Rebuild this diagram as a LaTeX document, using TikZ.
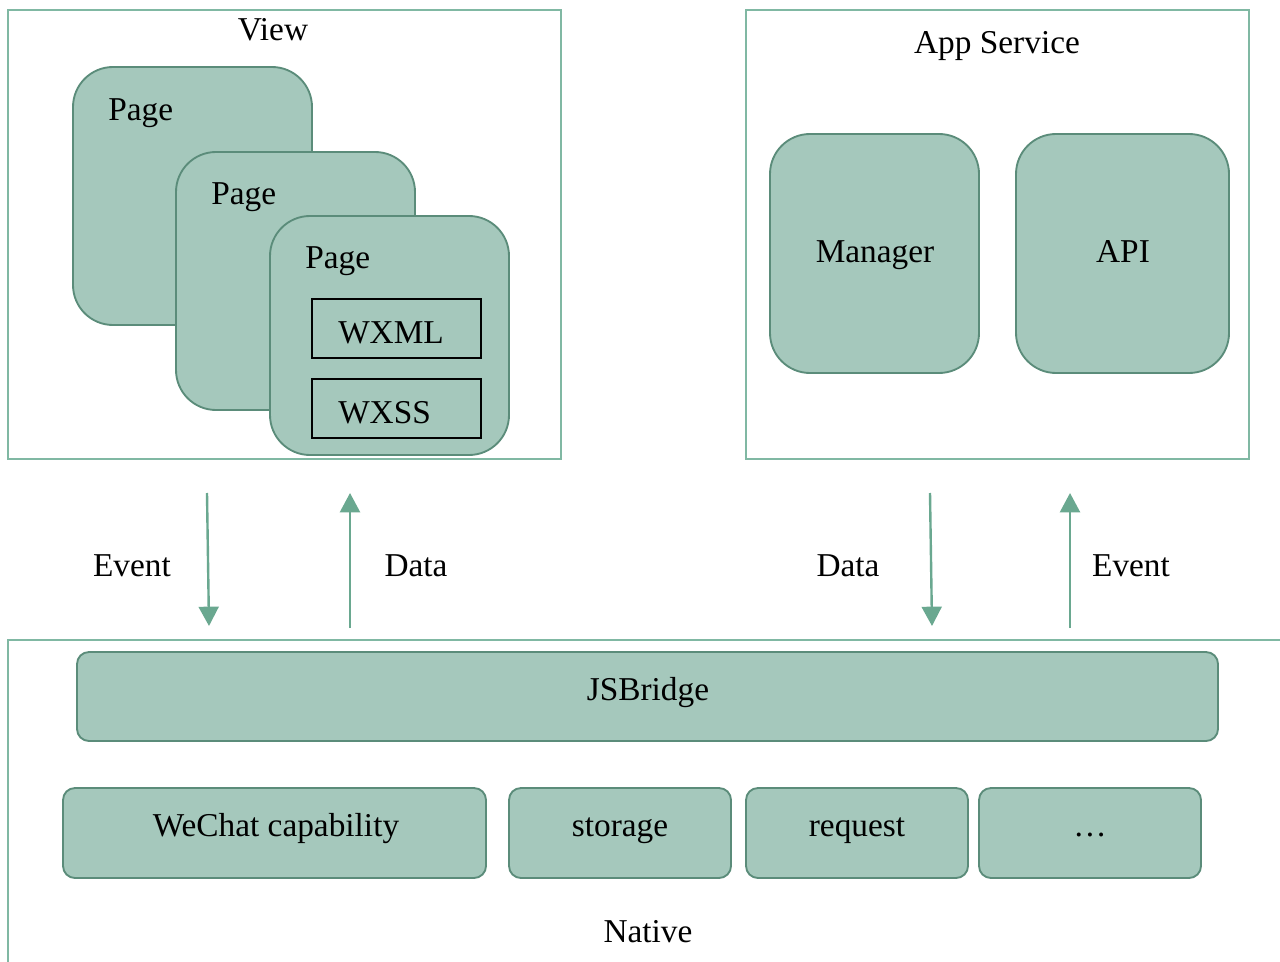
\documentclass[tikz,border=0pt]{standalone}
\usepackage{fontspec}
\setmainfont{Liberation Serif}
\usetikzlibrary{fit,arrows.meta}
\definecolor{fillg}{HTML}{A5C8BC}
\definecolor{edgeg}{HTML}{5B8C7A}
\definecolor{outerg}{HTML}{80B8A3}
\definecolor{arrg}{HTML}{6AA890}
\begin{document}
\begin{tikzpicture}[x=0.75pt,y=-0.75pt,
  outerbox/.style={draw=outerg,line width=1.4pt,inner sep=0pt},
  bigbox/.style={draw=edgeg,fill=fillg,line width=1.4pt,rounded corners=30pt,inner sep=0pt},
  smallbox/.style={draw=edgeg,fill=fillg,line width=1.4pt,rounded corners=9pt,inner sep=0pt},
  blackbox/.style={draw=black,line width=1.6pt,inner sep=0pt},
  lbl/.style={font=\fontsize{25}{30}\selectfont,inner sep=0pt},
  flow/.style={draw=arrg,line width=1.8pt,-{Triangle[length=14.5pt,width=15pt]}}]
\useasboundingbox (0,0) rectangle (1280,962);
% View
\node[outerbox,fit={(8,10)(561,459)}] (view) {};
\node[lbl,anchor=base] (viewl) at (273,41) {View};
\node[bigbox,fit={(73,67)(312,325)}] (p1) {};
\node[lbl,anchor=base west] (p1l) at (108,121) {Page};
\node[bigbox,fit={(176,152)(415,410)}] (p2) {};
\node[lbl,anchor=base west] (p2l) at (211,205) {Page};
\node[bigbox,fit={(270,216)(509,455)}] (p3) {};
\node[lbl,anchor=base west] (p3l) at (305,269) {Page};
\node[blackbox,fit={(312,299)(481,358)}] (wxml) {};
\node[lbl,anchor=base west] (wxmll) at (338,343) {WXML};
\node[blackbox,fit={(312,379)(481,438)}] (wxss) {};
\node[lbl,anchor=base west] (wxssl) at (338,423) {WXSS};
% App Service
\node[outerbox,fit={(746,10)(1249,459)}] (app) {};
\node[lbl,anchor=base] (appl) at (997,54) {App Service};
\node[bigbox,fit={(770,134)(979,373)}] (mgr) {};
\node[lbl,anchor=base] (mgrl) at (875,263) {Manager};
\node[bigbox,fit={(1016,134)(1229,373)}] (api) {};
\node[lbl,anchor=base] (apil) at (1123,263) {API};
% Native
\draw[outerg,line width=1.4pt] (1285,640) -- (8,640) -- (8,966);
\node[smallbox,fit={(77,652)(1218,741)}] (jsb) {};
\node[lbl,anchor=base] (jsbl) at (648,700) {JSBridge};
\node[smallbox,fit={(63,788)(486,878)}] (wc) {};
\node[lbl,anchor=base] (wcl) at (276,836) {WeChat capability};
\node[smallbox,fit={(509,788)(731,878)}] (st) {};
\node[lbl,anchor=base] (stl) at (620,836) {storage};
\node[smallbox,fit={(746,788)(968,878)}] (rq) {};
\node[lbl,anchor=base] (rql) at (857,836) {request};
\node[smallbox,fit={(979,788)(1201,878)}] (more) {};
\node[lbl,anchor=base] (morel) at (1090,836) {\dots};
\node[lbl,anchor=base] (native) at (648,942) {Native};
% arrows
\coordinate (e1s) at (207,493); \coordinate (e1t) at (209,626);
\coordinate (d1s) at (350,628); \coordinate (d1t) at (350,493);
\coordinate (d2s) at (930,493); \coordinate (d2t) at (932,626);
\coordinate (e2s) at (1070,628); \coordinate (e2t) at (1070,493);
\draw[flow] (e1s) -- (e1t);
\draw[flow] (d1s) -- (d1t);
\draw[flow] (d2s) -- (d2t);
\draw[flow] (e2s) -- (e2t);
\node[lbl,anchor=base] (ev1) at (132,576) {Event};
\node[lbl,anchor=base] (da1) at (416,576) {Data};
\node[lbl,anchor=base] (da2) at (848,576) {Data};
\node[lbl,anchor=base] (ev2) at (1131,576) {Event};
\end{tikzpicture}
\end{document}
